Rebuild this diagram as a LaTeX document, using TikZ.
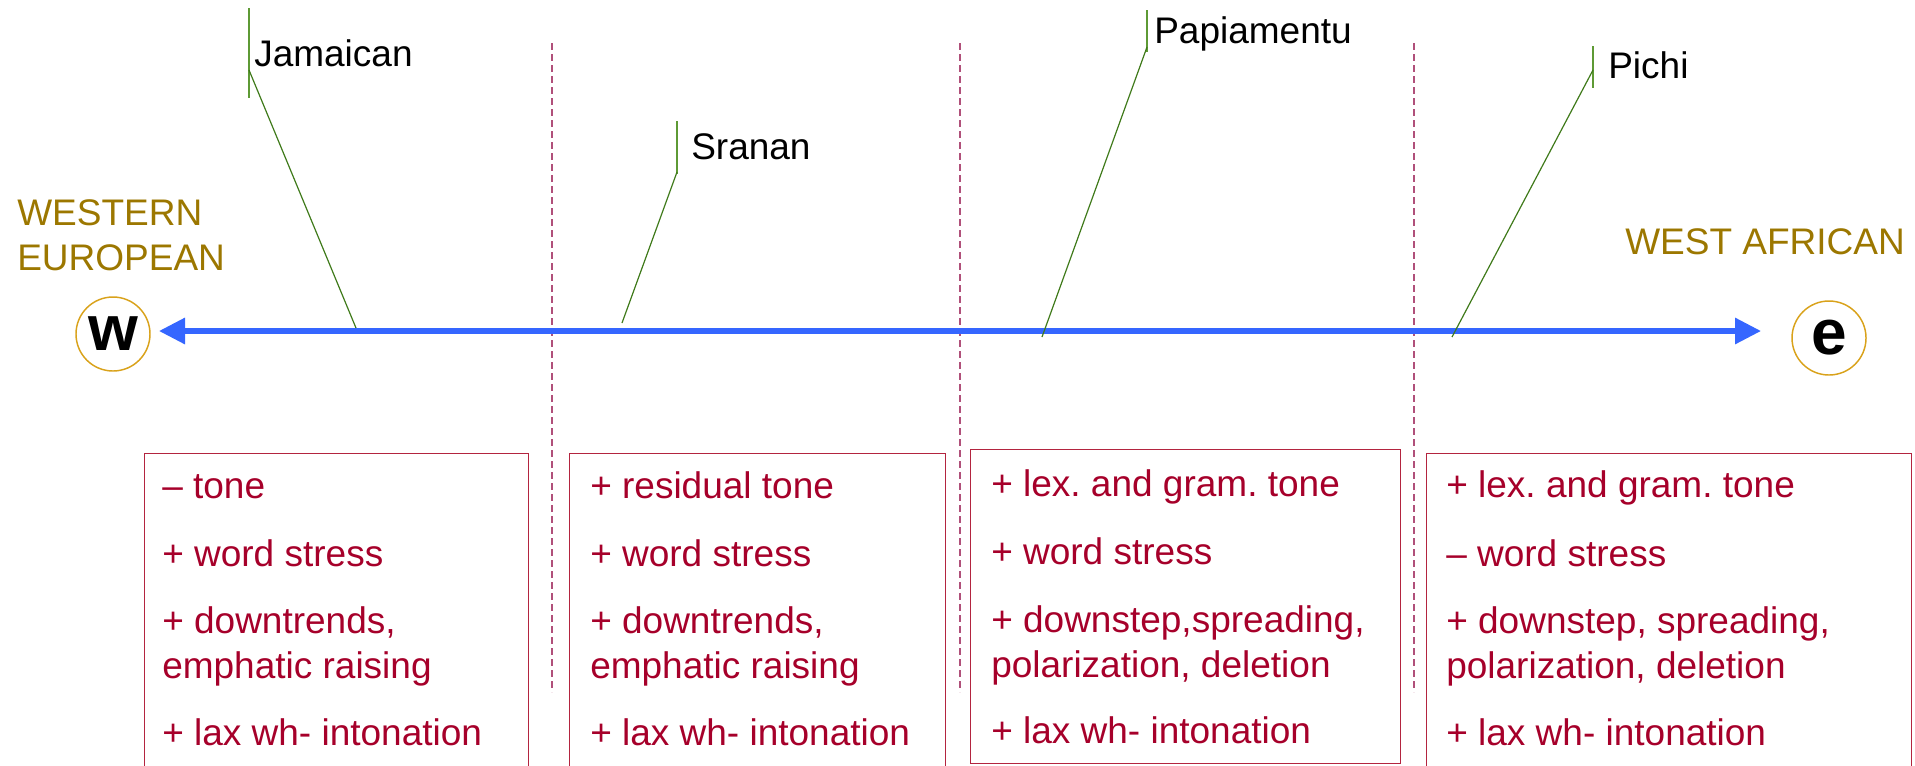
\documentclass[tikz,border=0pt]{standalone}
\usepackage{fontspec}
\setmainfont{Liberation Sans}
\usetikzlibrary{arrows.meta}
\frenchspacing
\definecolor{goldtxt}{HTML}{9C7700}
\definecolor{ringc}{HTML}{D9A21B}
\definecolor{boxc}{HTML}{B3243F}
\definecolor{txtc}{HTML}{A6002A}
\definecolor{sepc}{HTML}{B0507A}
\definecolor{leafc}{HTML}{3F7A1A}
\definecolor{tickc}{HTML}{5E9A35}
\definecolor{arrowc}{HTML}{3566FF}
\newcommand\mainfs{\fontsize{27.75pt}{33pt}\selectfont}
\tikzset{
  lbl/.style={inner sep=0pt, anchor=base west, font=\mainfs, text=black},
  pole/.style={inner sep=0pt, anchor=base west, font=\mainfs, text=goldtxt},
  item/.style={inner sep=0pt, anchor=base west, font=\mainfs, text=txtc},
  ring/.style={circle, draw=ringc, line width=1.1pt, minimum size=55.5pt, inner sep=0pt, font=\fontsize{48pt}{50pt}\selectfont\bfseries},
  boxr/.style={draw=boxc, line width=1.1pt, anchor=north west, inner sep=0pt},
  sepline/.style={draw=sepc, line width=1.1pt, dash pattern=on 5.25pt off 3pt},
  leader/.style={draw=leafc, line width=0.9pt},
  ticker/.style={draw=tickc, line width=0.9pt},
  axis/.style={draw=arrowc, line width=3.9pt, {Triangle[length=19.5pt,width=19pt]}-{Triangle[length=19.5pt,width=19pt]}}
}
\begin{document}
\begin{tikzpicture}[x=0.75pt,y=-0.75pt]
\useasboundingbox (0,0) rectangle (1915,765);
\clip (0,0) rectangle (1915,765);

% separators
\draw[sepline] (552,43) -- (552,692);
\draw[sepline] (960,43) -- (960,692);
\draw[sepline] (1414,43) -- (1414,692);

% poles
\node[ring] (w) at (113,334) {w};
\node[ring] (e) at (1829,338) {e};
\node[pole] (we1) at (17,225) {WESTERN};
\node[pole] (we2) at (17,270) {EUROPEAN};
\node[pole] (wa) at (1625,254) {WEST AFRICAN};

% axis
\coordinate (al) at (159,331);
\coordinate (ar) at (1761,331);
\draw[axis] (al) -- (ar);

% language labels
\draw[ticker] (249,8) -- (249,98);
\node[lbl] (jam) at (254,66) {Jamaican};
\coordinate (jt) at (249,70);
\coordinate (jb) at (356,328);
\draw[leader] (jt) -- (jb);

\draw[ticker] (677,121) -- (677,174);
\node[lbl] (sra) at (691,159) {Sranan};
\coordinate (st) at (677,172);
\coordinate (sb) at (622,323);
\draw[leader] (st) -- (sb);

\draw[ticker] (1147,10) -- (1147,52);
\node[lbl] (pap) at (1154,43) {Papiamentu};
\coordinate (pt) at (1147,47);
\coordinate (pb) at (1042,337);
\draw[leader] (pt) -- (pb);

\draw[ticker] (1593,46) -- (1593,88);
\node[lbl] (pic) at (1608,78) {Pichi};
\coordinate (ct) at (1593,70);
\coordinate (cb) at (1452,337);
\draw[leader] (ct) -- (cb);

% boxes
\node[boxr, minimum width=288pt, minimum height=260pt] (b1) at (144,453) {};
\node[boxr, minimum width=282pt, minimum height=260pt] (b2) at (569,453) {};
\node[boxr, minimum width=322.5pt, minimum height=235.5pt] (b3) at (970,449) {};
\node[boxr, minimum width=363.75pt, minimum height=260pt] (b4) at (1426,453) {};

% box 1
\node[item] (a1) at (162,498) {– tone};
\node[item] (a2) at (162,566) {+ word stress};
\node[item] (a3) at (162,633) {+ downtrends,};
\node[item] (a4) at (162,678) {emphatic raising};
\node[item] (a5) at (162,745) {+ lax wh- intonation};
% box 2
\node[item] (c1) at (590,498) {+ residual tone};
\node[item] (c2) at (590,566) {+ word stress};
\node[item] (c3) at (590,633) {+ downtrends,};
\node[item] (c4) at (590,678) {emphatic raising};
\node[item] (c5) at (590,745) {+ lax wh- intonation};
% box 3
\node[item] (d1) at (991,496) {+ lex. and gram. tone};
\node[item] (d2) at (991,564) {+ word stress};
\node[item] (d3) at (991,632) {+ downstep,spreading,};
\node[item] (d4) at (991,677) {polarization, deletion};
\node[item] (d5) at (991,743) {+ lax wh- intonation};
% box 4
\node[item] (f1) at (1446,497) {+ lex. and gram. tone};
\node[item] (f2) at (1446,566) {– word stress};
\node[item] (f3) at (1446,633) {+ downstep, spreading,};
\node[item] (f4) at (1446,678) {polarization, deletion};
\node[item] (f5) at (1446,745) {+ lax wh- intonation};
\end{tikzpicture}
\end{document}
